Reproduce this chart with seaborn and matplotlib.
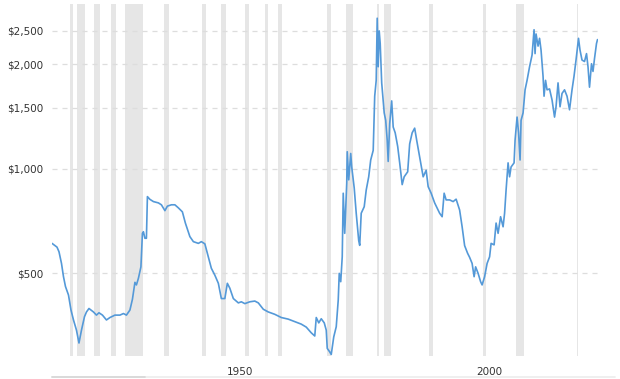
"""Inflation-adjusted gold price, log scale, with recession shading."""

import matplotlib

matplotlib.use("Agg")
import matplotlib.pyplot as plt
import pandas as pd
import seaborn as sns
from matplotlib.lines import Line2D


PALETTE = {
    "ink": "#333333",
    "line": "#5499d8",
    "shade": "#e6e6e6",
    "grid": "#dddddd",
}

years = [
    1915.0, 1916.0, 1916.4, 1916.9, 1917.3, 1917.7, 1918.3, 1918.8, 1919.3, 1919.9,
    1920.4, 1920.9, 1921.5, 1921.9, 1922.4, 1923.3, 1923.9, 1924.4, 1925.1, 1925.9,
    1926.6, 1927.6, 1928.6, 1929.3, 1929.9, 1930.6, 1931.1, 1931.6, 1931.9, 1932.3,
    1932.8, 1933.1, 1933.3, 1933.6, 1933.9, 1934.1, 1934.6, 1935.3, 1936.3, 1936.9,
    1937.6, 1938.1, 1938.9, 1939.6, 1940.3, 1941.1, 1941.7, 1942.6, 1943.3, 1944.3,
    1944.9, 1945.6, 1946.3, 1946.9, 1947.6, 1948.3, 1948.9, 1949.6, 1950.1, 1950.6,
    1951.3, 1952.3, 1952.9, 1953.6, 1954.6, 1955.6, 1956.3, 1957.3, 1958.3, 1959.6,
    1960.9, 1962.3, 1963.6, 1964.9, 1965.9, 1966.9, 1967.6, 1967.9, 1968.4, 1968.9,
    1969.5, 1969.9, 1970.1, 1970.6, 1970.9, 1971.4, 1971.9, 1972.3, 1972.5, 1972.8,
    1973.1, 1973.3, 1973.6, 1974.0, 1974.1, 1974.4, 1974.8, 1975.0, 1975.5, 1975.9,
    1976.4, 1976.6, 1976.9, 1977.5, 1977.9, 1978.4, 1978.8, 1979.3, 1979.6, 1979.9,
    1980.1, 1980.3, 1980.5, 1980.7, 1981.0, 1981.5, 1981.8, 1982.1, 1982.3, 1982.6,
    1983.0, 1983.3, 1983.7, 1984.2, 1984.6, 1985.1, 1985.5, 1986.2, 1986.6, 1987.1,
    1987.6, 1988.0, 1988.6, 1989.3, 1989.9, 1990.3, 1990.9, 1991.6, 1992.6, 1993.1,
    1993.5, 1993.9, 1994.6, 1995.3, 1995.9, 1996.6, 1997.1, 1997.6, 1998.2, 1998.6,
    1999.1, 1999.5, 1999.8, 2000.3, 2000.8, 2001.1, 2001.6, 2002.1, 2002.6, 2002.9,
    2003.5, 2003.9, 2004.3, 2004.8, 2005.3, 2005.6, 2005.9, 2006.3, 2006.6, 2006.9,
    2007.5, 2007.7, 2008.1, 2008.4, 2008.7, 2008.9, 2009.3, 2009.7, 2010.1, 2010.6,
    2011.1, 2011.5, 2011.7, 2011.9, 2012.3, 2012.6, 2012.9, 2013.3, 2013.5, 2013.8,
    2014.1, 2014.6, 2015.1, 2015.6, 2015.9, 2016.3, 2016.7, 2017.1, 2017.6, 2018.1,
    2018.6, 2019.1, 2019.5, 2019.9, 2020.4, 2020.7, 2021.1, 2021.6, 2022.0, 2022.3,
    2022.6, 2023.0, 2023.3, 2023.6, 2024.0, 2024.2,
]

prices = [
    609, 594, 576, 533, 488, 457, 432, 391, 366, 342,
    314, 342, 374, 386, 395, 386, 378, 384, 378, 366,
    372, 378, 378, 382, 378, 391, 420, 470, 462, 483,
    521, 651, 658, 630, 630, 831, 816, 804, 797, 787,
    757, 780, 787, 787, 771, 751, 697, 637, 616, 609,
    616, 607, 557, 516, 493, 467, 422, 422, 467, 452,
    422, 410, 413, 408, 413, 415, 410, 393, 386, 380,
    372, 368, 362, 356, 349, 336, 329, 372, 359, 369,
    359, 342, 303, 296, 291, 327, 350, 418, 499, 472,
    557, 850, 651, 908, 1120, 929, 1107, 1012, 880, 744,
    620, 601, 744, 777, 868, 948, 1060, 1130, 1620, 1800,
    2720, 1970, 2500, 2300, 1770, 1450, 1380, 1210, 1050, 1350,
    1570, 1320, 1270, 1160, 1040, 900, 948, 980, 1180, 1270,
    1310, 1210, 1080, 948, 990, 888, 850, 797, 744, 727,
    850, 813, 813, 804, 817, 760, 680, 600, 570, 555,
    533, 488, 521, 499, 472, 462, 488, 533, 557, 609,
    603, 697, 651, 727, 680, 744, 868, 1040, 948, 1012,
    1040, 1210, 1410, 1270, 1060, 1380, 1450, 1690, 1800, 1970,
    2130, 2520, 2150, 2450, 2260, 2380, 2200, 1850, 1620, 1800,
    1690, 1700, 1580, 1410, 1510, 1770, 1510, 1650, 1690, 1620,
    1480, 1690, 1850, 2060, 2380, 2200, 2060, 2040, 2150, 1970,
    1720, 2010, 1910, 2080, 2300, 2360,
]

recession_start = [
    1918.67, 1920.0, 1923.37, 1926.79, 1929.62, 1937.37, 1945.12, 1948.87,
    1953.54, 1957.62, 1960.29, 1969.96, 1973.87, 1980.04, 1981.54, 1990.54,
    2001.21, 2007.96, 2020.12,
]
recession_end = [
    1919.21, 1921.54, 1924.54, 1927.87, 1933.21, 1938.46, 1945.79, 1949.79,
    1954.37, 1958.29, 1961.12, 1970.87, 1975.21, 1980.54, 1982.87, 1991.21,
    2001.87, 2009.46, 2020.29,
]

y_ticks = [500, 1000, 1500, 2000, 2500]
x_ticks = [1950, 2000]


def set_plot_style() -> None:
    sns.set_theme(style="white")
    plt.rcParams["font.family"] = ["DejaVu Sans"]
    plt.rcParams["axes.edgecolor"] = "white"


set_plot_style()
df = pd.DataFrame({"year": years, "price": prices})

fig = plt.figure(figsize=(6.2, 3.79), dpi=100)
ax = fig.add_axes([52 / 620, 23.5 / 379, 546 / 620, 352 / 379])

for start, end in zip(recession_start, recession_end):
    ax.axvspan(start, end, color=PALETTE["shade"], lw=0, zorder=0)

sns.lineplot(data=df, x="year", y="price", color=PALETTE["line"], linewidth=1.2, ax=ax, zorder=3)

ax.set_yscale("log")
ax.set_ylim(289, 3000)
ax.set_xlim(1915.0, 2024.3)
ax.set_yticks(y_ticks)
ax.set_yticklabels([f"${v:,.0f}" for v in y_ticks])
ax.yaxis.set_minor_locator(matplotlib.ticker.NullLocator())
ax.set_xticks(x_ticks)
ax.set_xticklabels([str(v) for v in x_ticks], ha="left")
ax.tick_params(axis="both", length=0, labelsize=7.5, colors=PALETTE["ink"])
ax.tick_params(axis="y", pad=6)
ax.tick_params(axis="x", pad=8)
ax.grid(axis="y", color=PALETTE["grid"], linestyle=(0, (4, 4)), linewidth=0.9, zorder=1)
ax.grid(axis="x", visible=False)
ax.set_xlabel("")
ax.set_ylabel("")
for spine in ax.spines.values():
    spine.set_visible(False)

# navigator strip at the very bottom
fig.add_artist(Line2D([52 / 620, 615 / 620], [2 / 379, 2 / 379], color="#ececec", lw=1.2))
fig.add_artist(Line2D([52 / 620, 145 / 620], [2 / 379, 2 / 379], color="#d6d6d6", lw=1.2))

fig.savefig("out.png", dpi=100)
